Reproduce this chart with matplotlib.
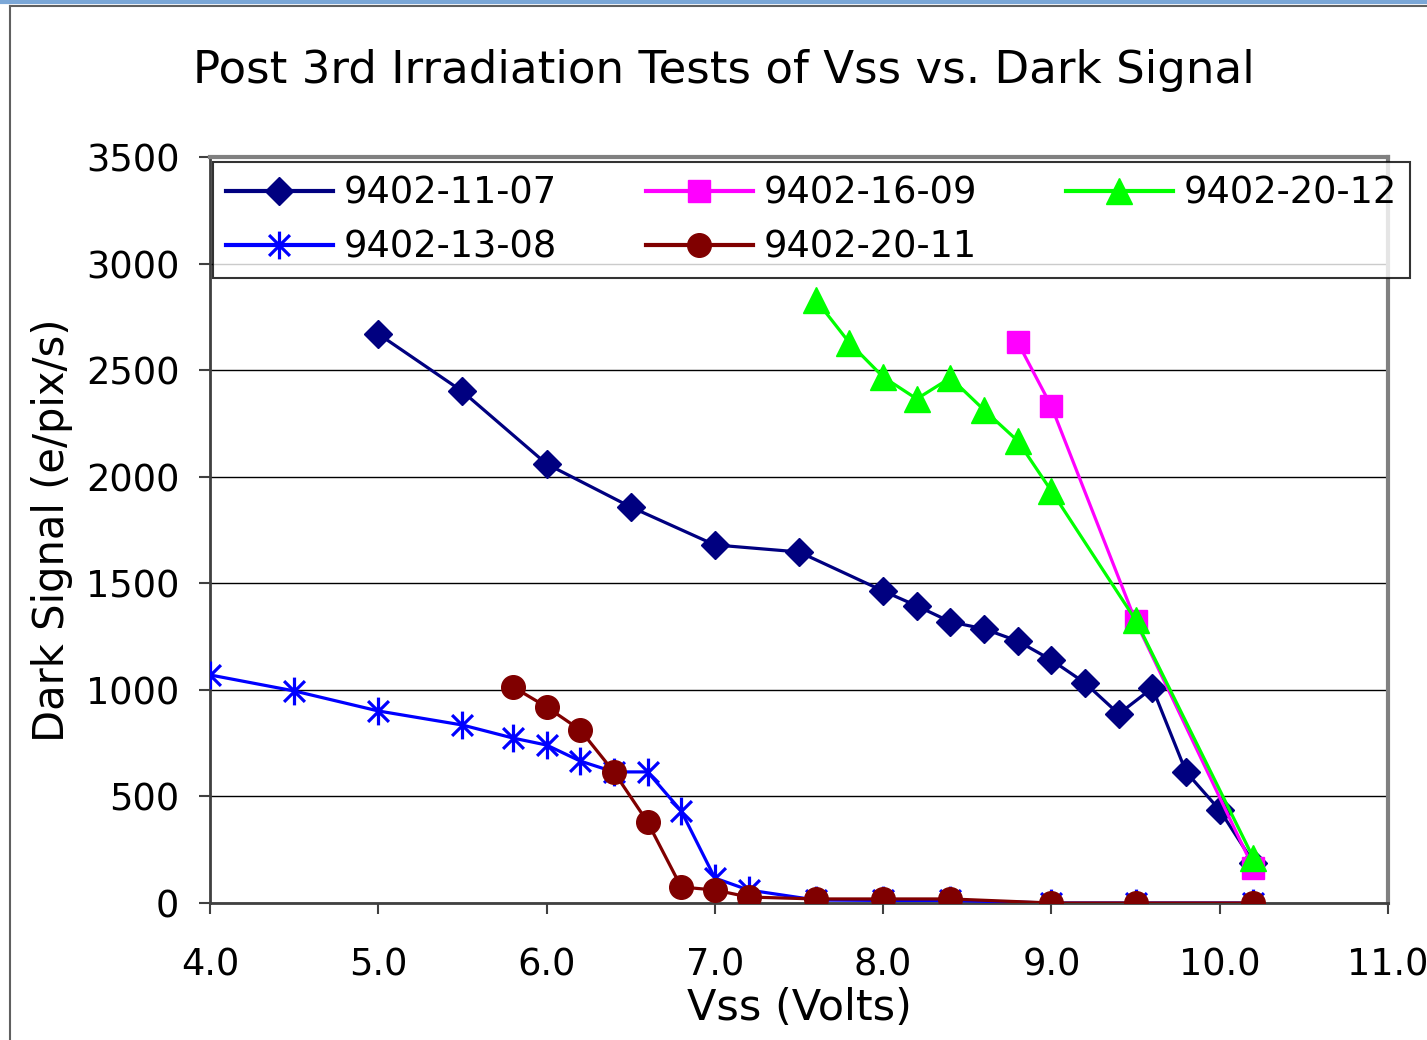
import matplotlib
matplotlib.use("Agg")
import matplotlib.pyplot as plt
from matplotlib.lines import Line2D
from matplotlib.path import Path

# Dark signal (e/pix/s) vs. Vss (Volts) per device
vss_1107 = [5.0, 5.5, 6.0, 6.5, 7.0, 7.5, 8.0, 8.2, 8.4, 8.6, 8.8, 9.0, 9.2, 9.4, 9.6, 9.8, 10.0, 10.2]
sig_1107 = [2670, 2400, 2060, 1858, 1680, 1647, 1464, 1394, 1319, 1286, 1229, 1140, 1032, 887, 1009, 615, 436, 190]

vss_1609 = [8.8, 9.0, 9.5, 10.2]
sig_1609 = [2630, 2330, 1323, 164]

vss_2012 = [7.6, 7.8, 8.0, 8.2, 8.4, 8.6, 8.8, 9.0, 9.5, 10.2]
sig_2012 = [2830, 2628, 2468, 2365, 2464, 2313, 2168, 1933, 1328, 211]

vss_1308 = [4.0, 4.5, 5.0, 5.5, 5.8, 6.0, 6.2, 6.4, 6.6, 6.8, 7.0, 7.2, 7.6, 8.0, 8.4, 9.0, 9.5, 10.2]
sig_1308 = [1070, 995, 901, 835, 774, 741, 666, 615, 615, 432, 117, 61, 14, 12, 12, 0, 0, 0]

vss_2011 = [5.8, 6.0, 6.2, 6.4, 6.6, 6.8, 7.0, 7.2, 7.6, 8.0, 8.4, 9.0, 9.5, 10.2]
sig_2011 = [1014, 920, 812, 615, 380, 75, 61, 28, 19, 19, 19, 0, 0, 0]

x_ticks = [4.0, 5.0, 6.0, 7.0, 8.0, 9.0, 10.0, 11.0]
y_ticks = [0, 500, 1000, 1500, 2000, 2500, 3000, 3500]

# asterisk: vertical bar plus an X
star = Path([(0, -1), (0, 1), (-0.75, -0.75), (0.75, 0.75), (-0.75, 0.75), (0.75, -0.75)],
            [Path.MOVETO, Path.LINETO, Path.MOVETO, Path.LINETO, Path.MOVETO, Path.LINETO])

plt.rcParams['font.family'] = 'DejaVu Sans'

fig = plt.figure(figsize=(14.27, 10.40), dpi=100)
ax = fig.add_axes([210 / 1427, 137 / 1040, 1178 / 1427, 746 / 1040])

lw = 2.3
h1, = ax.plot(vss_1107, sig_1107, color='#000080', lw=lw, marker='D', ms=14, label='9402-11-07', zorder=3)
h2, = ax.plot(vss_1609, sig_1609, color='#ff00ff', lw=lw, marker='s', ms=16, label='9402-16-09', zorder=4)
h3, = ax.plot(vss_2012, sig_2012, color='#00ff00', lw=lw, marker='^', ms=19, label='9402-20-12', zorder=5)
h4, = ax.plot(vss_1308, sig_1308, color='#0000ff', lw=lw, marker=star, ms=20, mew=2.3,
              label='9402-13-08', zorder=3)
h5, = ax.plot(vss_2011, sig_2011, color='#800000', lw=lw, marker='o', ms=17, label='9402-20-11', zorder=4)

ax.set_xlim(4.0, 11.0)
ax.set_ylim(0, 3500)
ax.set_xticks(x_ticks)
ax.set_xticklabels([f'{v:.1f}' for v in x_ticks])
ax.set_yticks(y_ticks)
ax.set_yticklabels([str(v) for v in y_ticks])
ax.tick_params(labelsize=26.5, length=8, width=1.5, color='#404040', direction='out')
ax.tick_params(axis='y', pad=14)
ax.tick_params(axis='x', pad=23)

ax.yaxis.grid(True, color='black', lw=1)
ax.set_axisbelow(True)

for s in ('left', 'bottom'):
    ax.spines[s].set_color('#404040')
    ax.spines[s].set_linewidth(2)
for s in ('top', 'right'):
    ax.spines[s].set_color('#808080')
    ax.spines[s].set_linewidth(3)

ax.set_xlabel('Vss (Volts)', fontsize=31, labelpad=3)
ax.set_ylabel('Dark Signal (e/pix/s)', fontsize=30, labelpad=9)

fig.text(724 / 1427, 1 - 71 / 1040, 'Post 3rd Irradiation Tests of Vss vs. Dark Signal',
         fontsize=32.5, ha='center', va='center')

leg = fig.legend([h1, h4, h2, h5, h3],
                 ['9402-11-07', '9402-13-08', '9402-16-09', '9402-20-11', '9402-20-12'],
                 ncol=3, fontsize=26.5, loc='upper left',
                 bbox_to_anchor=(213 / 1427, 1 - 278 / 1040, 1197 / 1427, 116 / 1040),
                 mode='expand', frameon=True, fancybox=False, edgecolor='black',
                 handlelength=2.9, handletextpad=0.3, borderpad=0.35, labelspacing=0.45,
                 columnspacing=1.5, borderaxespad=0)
leg.get_frame().set_linewidth(1.5)
for ln in leg.get_lines():
    ln.set_linewidth(3)

# outer chart border
fig.add_artist(Line2D([0, 1], [1 - 1.5 / 1040] * 2, color='#7ba7d7', lw=3, transform=fig.transFigure))
fig.add_artist(Line2D([10 / 1427, 10 / 1427], [0, 1 - 6 / 1040], color='#606060', lw=1.5,
                      transform=fig.transFigure))
fig.add_artist(Line2D([10 / 1427, 1], [1 - 6 / 1040] * 2, color='#606060', lw=1.5,
                      transform=fig.transFigure))

fig.savefig('out.png', dpi=100)
